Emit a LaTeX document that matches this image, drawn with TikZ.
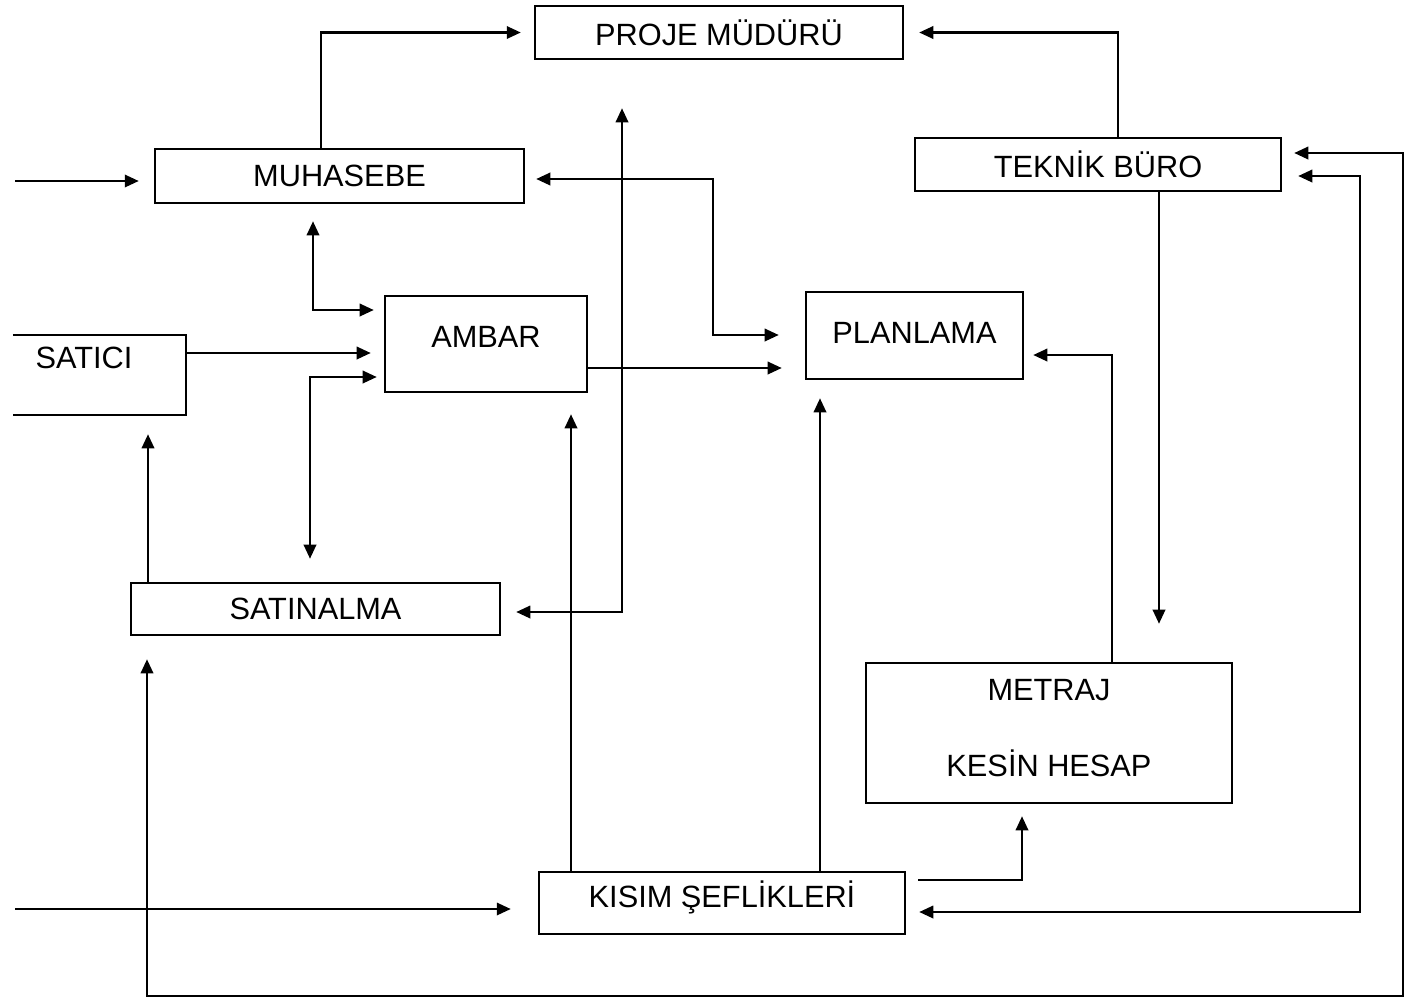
\documentclass[tikz,border=0pt]{standalone}
\usepackage{fontspec}
\setmainfont{Liberation Sans}
\usetikzlibrary{arrows.meta}

\begin{document}
\begin{tikzpicture}[x=0.02cm,y=-0.02cm,line width=1.4pt,
    font=\fontsize{17.5pt}{21pt}\selectfont,
    >={Triangle[length=8pt,width=7pt]},
    box/.style={draw,inner sep=0pt}]
  \useasboundingbox (0,0) rectangle (1411,1002);
  % boxes
  \node[box,minimum width=7.36cm,minimum height=1.06cm] (proje) at (719,32.5) {PROJE MÜDÜRÜ};
  \node[box,minimum width=7.38cm,minimum height=1.08cm] (muh) at (339.5,176) {MUHASEBE};
  \node[box,minimum width=7.32cm,minimum height=1.06cm] (teknik) at (1098,164.5) {TEKNİK BÜRO};
  \node[minimum width=3.42cm,minimum height=1.56cm] (satici) at (99.5,375) {};
  \draw (satici.north west) -- (satici.north east) -- (satici.south east) -- (satici.south west);
  \node (saticitxt) at (84,358) {SATICI};
  \node[box,minimum width=4.04cm,minimum height=1.92cm,text depth=0.3cm] (ambar) at (486,344) {AMBAR};
  \node[box,minimum width=4.34cm,minimum height=1.74cm,text depth=0.12cm] (planlama) at (914.5,335.5) {PLANLAMA};
  \node[box,minimum width=7.38cm,minimum height=1.04cm] (satinalma) at (315.5,609) {SATINALMA};
  \node[box,minimum width=7.32cm,minimum height=2.8cm,align=center,text depth=0.2cm] (metraj) at (1049,733) {METRAJ\\[22pt]KESİN HESAP};
  \node[box,minimum width=7.32cm,minimum height=1.24cm,text depth=0.34cm] (kisim) at (722,903) {KISIM ŞEFLİKLERİ};
  \coordinate (inM) at (15,181);
  \coordinate (inK) at (15,909);
  % connectors
  \draw[->,shorten >=0.26cm] (muh.north -| 321,0) |- (proje.west);
  \draw[->,shorten >=0.3cm] (teknik.north -| 1118,0) |- (proje.east);
  \draw[->,shorten >=0.3cm] (inM) -- (muh.west |- inM);
  \draw[<->,shorten <=0.34cm,shorten >=0.2cm] (muh.south -| 313,0) |- (ambar.west |- 0,310);
  \draw[->,shorten >=0.26cm] (satici.east |- 0,353) -- (ambar.west |- 0,353);
  \draw[<->,shorten <=0.14cm,shorten >=0.46cm] (ambar.west |- 0,377) -| (satinalma.north -| 310,0);
  \draw[->,shorten >=0.38cm] (satinalma.north -| 148,0) -- (satici.south -| 148,0);
  \draw[<->,shorten <=0.22cm,shorten >=0.52cm] (muh.east |- 0,179) -| (713,335) -- (planlama.west |- 0,335);
  \draw[->,shorten >=0.46cm] (ambar.east |- 0,368) -- (planlama.west |- 0,368);
  \draw[<->,shorten <=0.3cm,shorten >=0.96cm] (satinalma.east |- 0,612) -| (proje.south -| 622,0);
  \draw[->,shorten >=0.42cm] (kisim.north -| 571,0) -- (ambar.south -| 571,0);
  \draw[->,shorten >=0.36cm] (kisim.north -| 820,0) -- (planlama.south -| 820,0);
  \draw[->,shorten >=0.18cm] (metraj.north -| 1112,0) |- (planlama.east |- 0,355);
  \draw[->,shorten >=0.76cm] (teknik.south -| 1159,0) -- (metraj.north -| 1159,0);
  \draw[->,shorten <=0.24cm,shorten >=0.24cm] (kisim.east |- 0,880) -| (metraj.south -| 1022,0);
  \draw[<->,shorten <=0.26cm,shorten >=0.32cm] (kisim.east |- 0,912) -| (1360,176) -- (teknik.east |- 0,176);
  \draw[<->,shorten <=0.24cm,shorten >=0.46cm] (teknik.east |- 0,153) -| (1403,996) -| (satinalma.south -| 147,0);
  \draw[->,shorten >=0.54cm] (inK) -- (kisim.west |- inK);
\end{tikzpicture}
\end{document}
